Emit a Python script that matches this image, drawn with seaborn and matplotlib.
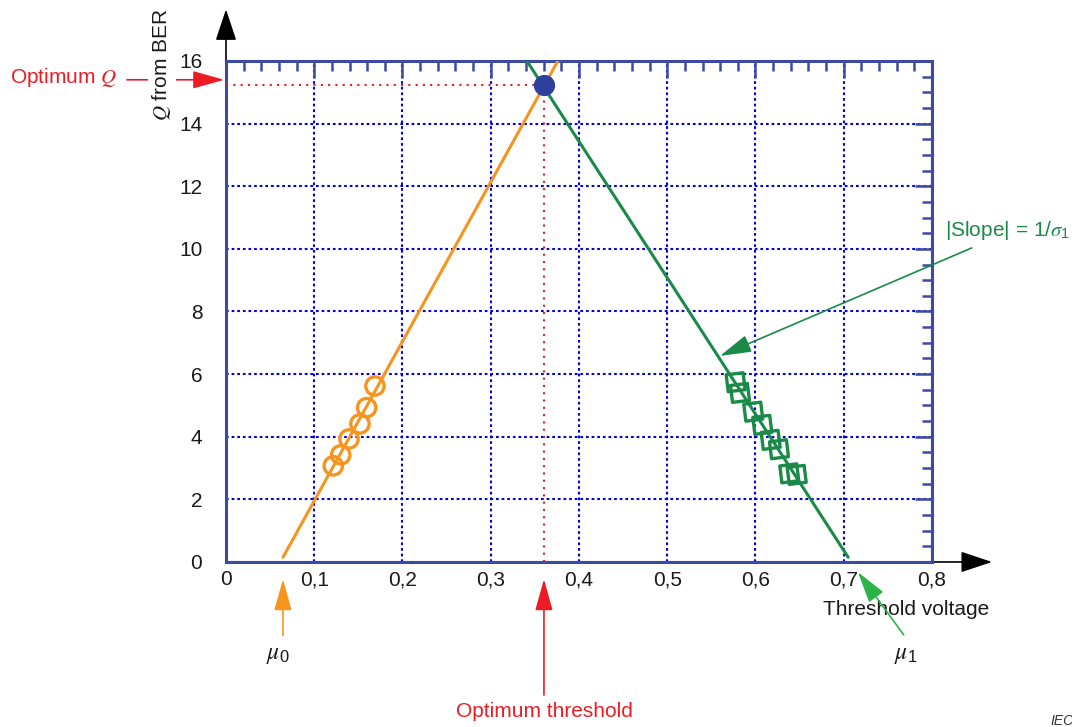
import numpy as np
import pandas as pd
import matplotlib
matplotlib.use("Agg")
import matplotlib.pyplot as plt
import seaborn as sns
from matplotlib.ticker import MultipleLocator, FuncFormatter

q0_x = [0.1216, 0.1300, 0.1394, 0.1518, 0.1594, 0.1688]
q0_y = [3.07, 3.42, 3.93, 4.41, 4.93, 5.62]
q1_x = [0.5775, 0.5824, 0.5975, 0.6077, 0.6172, 0.6266, 0.6383, 0.6467]
q1_y = [5.74, 5.40, 4.80, 4.38, 3.90, 3.60, 2.83, 2.78]

# fitted lines
fit0_x = [0.0646, 0.376]
fit0_y = [0.15, 16.0]
fit1_x = [0.341, 0.705]
fit1_y = [16.0, 0.15]

# optimum (intersection)
opt_x = [0.3603]
opt_q = [15.23]
mu0 = 0.0646
mu1 = 0.716

x_ticks = [0, 0.1, 0.2, 0.3, 0.4, 0.5, 0.6, 0.7, 0.8]
y_ticks = [0, 2, 4, 6, 8, 10, 12, 14, 16]

ORANGE = '#f7941d'
GREEN = '#1a8a48'
LGREEN = '#2db34a'
RED = '#ed1c24'
NAVY = '#3b4aa3'
BLUE = '#0000e0'
INK = '#1a1a1a'
FS = 15

sns.set_style("white")
plt.rcParams['font.family'] = ['Liberation Sans', 'DejaVu Sans']
plt.rcParams['mathtext.fontset'] = 'custom'
plt.rcParams['mathtext.rm'] = 'Liberation Sans'
plt.rcParams['mathtext.it'] = 'STIXGeneral:italic'

fig = plt.figure(figsize=(10.72, 7.27), dpi=100)
ax = fig.add_axes([0.2108, 0.2270, 0.6586, 0.6891])

d0 = pd.DataFrame({'x': q0_x, 'q': q0_y})
d1 = pd.DataFrame({'x': q1_x, 'q': q1_y})

sns.lineplot(x=fit0_x, y=fit0_y, color=ORANGE, lw=2.2, ax=ax, zorder=4)
sns.lineplot(x=fit1_x, y=fit1_y, color=GREEN, lw=2.2, ax=ax, zorder=4)
sns.scatterplot(data=d0, x='x', y='q', marker='o', s=175, facecolor='none',
                edgecolor=ORANGE, linewidth=2.4, ax=ax, zorder=5)
sns.scatterplot(data=d1, x='x', y='q', marker=(4, 0, 52), s=300, facecolor='none',
                edgecolor=GREEN, linewidth=2.4, ax=ax, zorder=5)

# dotted red guides to the optimum
ax.plot([0, opt_x[0]], [opt_q[0], opt_q[0]], color=RED, ls=(0, (1, 2.5)), lw=1.5, zorder=3)
ax.plot([opt_x[0], opt_x[0]], [0, opt_q[0]], color=RED, ls=(0, (1, 2.5)), lw=1.5, zorder=3)
sns.scatterplot(x=opt_x, y=opt_q, s=200, color='#2e3f9e', edgecolor='#2e3f9e', ax=ax, zorder=6)

ax.set_xlim(0, 0.8)
ax.set_ylim(0, 16)
ax.set_xticks(x_ticks)
ax.set_yticks(y_ticks)
ax.xaxis.set_minor_locator(MultipleLocator(0.02))
ax.yaxis.set_minor_locator(MultipleLocator(0.5))
ax.xaxis.set_major_formatter(FuncFormatter(lambda v, p: '0' if abs(v) < 1e-9 else f'{v:.1f}'.replace('.', ',')))
ax.yaxis.set_major_formatter(FuncFormatter(lambda v, p: f'{v:.0f}'))
ax.tick_params(which='both', direction='in', top=True, right=True, color=NAVY, width=1.8,
               labelcolor=INK, labelsize=FS)
ax.tick_params(which='major', length=12)
ax.tick_params(which='minor', length=7)
ax.tick_params(axis='y', which='major', pad=17)
ax.tick_params(axis='x', which='major', pad=6)
ax.grid(True, which='major', color=BLUE, ls=(0, (1.3, 1.4)), lw=1.5)
for s in ax.spines.values():
    s.set_color(NAVY)
    s.set_linewidth(2.2)
    s.set_visible(True)
ax.set_xlabel('')
ax.set_ylabel('')

# black axis arrows
arw = dict(arrowstyle='-|>,head_length=1.5,head_width=0.5', color='black', lw=1.2,
           mutation_scale=13, shrinkA=0, shrinkB=0)
ax.annotate('', xy=(0.868, 0), xytext=(0, 0), arrowprops=arw, annotation_clip=False, zorder=1)
ax.annotate('', xy=(0, 17.65), xytext=(0, 0), arrowprops=arw, annotation_clip=False, zorder=1)


def arrow(tip, tail, color, lw=1.2):
    ax.annotate('', xy=tip, xytext=tail, annotation_clip=False,
                arrowprops=dict(arrowstyle='-|>,head_length=1.5,head_width=0.42', color=color,
                                lw=lw, mutation_scale=13, shrinkA=0, shrinkB=0))


# optimum Q
ax.text(-0.2448, 15.46, 'Optimum $Q$', ha='left', va='center', fontsize=FS, color=RED)
arrow((-0.002, 15.4), (-0.1122, 15.4), RED)

ax.text(-0.0725, 15.87, '$Q$ from BER', rotation=90, ha='center', va='center', fontsize=FS,
        color=INK, bbox=dict(fc='white', ec='none', pad=1.5))
ax.text(0.6765, -1.53, 'Threshold voltage', ha='left', va='center', fontsize=FS, color=INK)

# optimum threshold
ax.text(0.3603, -4.79, 'Optimum threshold', ha='center', va='center', fontsize=FS, color=RED)
arrow((0.3603, -0.55), (0.3603, -4.25), RED)
# mu0 / mu1
ax.text(0.059, -2.97, r'$\mu_0$', ha='center', va='center', fontsize=17, color=INK)
arrow((mu0, -0.55), (mu0, -2.35), ORANGE)
ax.text(0.770, -2.97, r'$\mu_1$', ha='center', va='center', fontsize=17, color=INK)
arrow((mu1, -0.32), (0.768, -2.33), LGREEN)
# slope
ax.text(0.8146, 10.6, r'|Slope| = 1/$\sigma_1$', ha='left', va='center', fontsize=FS, color=GREEN)
arrow((0.5597, 6.58), (0.845, 10.03), GREEN)

fig.text(1050 / 1072, 1 - 721 / 727, 'IEC', fontsize=10, style='italic', color='#333333',
         ha='left', va='center')

fig.savefig('out.png', dpi=100)
